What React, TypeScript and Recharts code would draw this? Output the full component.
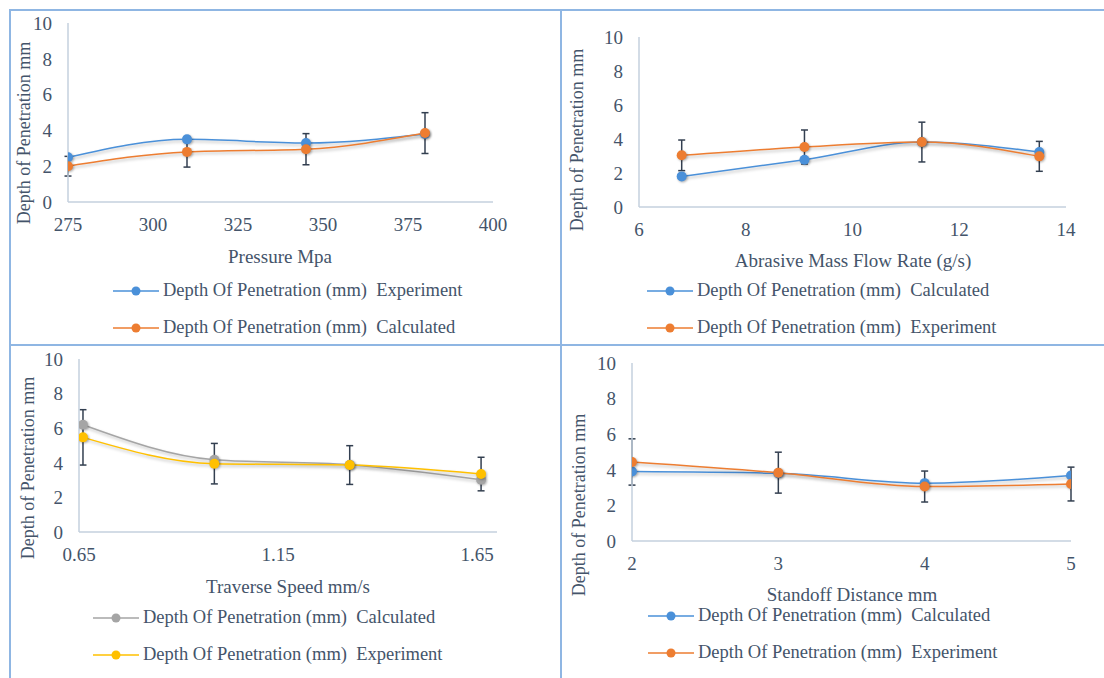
import { LineChart, Line, XAxis, YAxis, ErrorBar, Legend } from 'recharts';

// Pressure panel
const pressure = [275, 310, 345, 380];
const pressureExperiment = [2.5, 3.5, 3.3, 3.8];
const pressureCalculated = [2.0, 2.8, 2.95, 3.85];
const pressureError = [0.55, 0.85, 0.87, 1.14];
const pressureTicks = [275, 300, 325, 350, 375, 400];

// Abrasive mass flow panel
const flowRate = [6.8, 9.1, 11.3, 13.5];
const flowCalculated = [1.8, 2.78, 3.82, 3.24];
const flowExperiment = [3.04, 3.53, 3.82, 2.98];
const flowError = [0.9, 1.0, 1.17, 0.88];
const flowTicks = [6, 8, 10, 12, 14];

// Traverse speed panel
const speed = [0.66, 0.99, 1.33, 1.66];
const speedCalculated = [6.2, 4.18, 3.89, 3.02];
const speedExperiment = [5.47, 3.95, 3.87, 3.35];
const speedError = [1.6, 1.17, 1.12, 0.97];
const speedTicks = [0.65, 1.15, 1.65];

// Standoff distance panel
const standoff = [2, 3, 4, 5];
const standoffCalculated = [3.9, 3.8, 3.25, 3.68];
const standoffExperiment = [4.44, 3.84, 3.06, 3.2];
const standoffError = [1.3, 1.15, 0.87, 0.95];
const standoffTicks = [2, 3, 4, 5];

const depthTicks = [0, 2, 4, 6, 8, 10];

const FONT = '"Liberation Serif", "Times New Roman", serif';
const TEXT = '#44546a';
const AXIS = '#c5d0de';
const ERR = '#333f50';
const BORDER = '#8fb6e3';
const BLUE = '#4a90d9';
const ORANGE = '#ed7d31';
const GRAY = '#a5a5a5';
const YELLOW = '#ffc000';

type Series = { key: string; name: string; color: string; err?: boolean };

type PanelProps = {
  box: { x: number; y: number; w: number; h: number };
  plot: { l: number; t: number; r: number; b: number };
  rows: any[];
  xDomain: [number, number];
  xTicks: number[];
  xFmt?: (v: number) => string;
  series: Series[];
  xTitle: string;
  xTitleAt: { x: number; y: number };
  yTitleAt: { x: number; y: number };
  legendAt: { x: number; y: number };
};

const Y_W = 40;
const X_H = 30;

const LegendBox = ({ series }: { series: Series[] }) => (
  <div style={{ fontFamily: FONT, fontSize: 18.5, color: TEXT }}>
    {series.map((s) => (
      <div key={s.key} style={{ display: 'flex', alignItems: 'center', height: 37, whiteSpace: 'pre' }}>
        <svg width={46} height={12} style={{ marginRight: 4 }}>
          <line x1={0} y1={6} x2={46} y2={6} stroke={s.color} strokeWidth={1.5} />
          <circle cx={23} cy={6} r={4.5} fill={s.color} />
        </svg>
        <span>{s.name}</span>
      </div>
    ))}
  </div>
);

const Panel = ({ box, plot, rows, xDomain, xTicks, xFmt, series, xTitle, xTitleAt, yTitleAt, legendAt }: PanelProps) => {
  const margin = {
    left: plot.l - box.x - Y_W,
    top: plot.t - box.y,
    right: box.x + box.w - plot.r,
    bottom: box.y + box.h - plot.b - X_H,
  };
  return (
    <div style={{ position: 'absolute', left: box.x, top: box.y, width: box.w, height: box.h, fontFamily: FONT }}>
      <LineChart width={box.w} height={box.h} data={rows} margin={margin} style={{ fontFamily: FONT }}>
        <XAxis
          type="number"
          dataKey="x"
          domain={xDomain}
          ticks={xTicks}
          tickFormatter={xFmt}
          allowDataOverflow
          height={X_H}
          tickLine={false}
          tickSize={0}
          tickMargin={16}
          axisLine={{ stroke: AXIS, strokeWidth: 1.5 }}
          tick={{ fill: TEXT, fontSize: 19, fontFamily: FONT }}
        />
        <YAxis
          domain={[0, 10]}
          ticks={depthTicks}
          width={Y_W}
          tickLine={false}
          tickSize={0}
          tickMargin={16}
          axisLine={{ stroke: AXIS, strokeWidth: 1.5 }}
          tick={{ fill: TEXT, fontSize: 19, fontFamily: FONT }}
        />
        <Legend
          layout="horizontal"
          verticalAlign="middle"
          align="center"
          wrapperStyle={{ left: legendAt.x - box.x, top: legendAt.y - box.y, width: 'auto' }}
          content={() => <LegendBox series={series} />}
        />
        {series.map((s) => (
          <Line
            key={s.key}
            dataKey={s.key}
            name={s.name}
            type="monotone"
            stroke={s.color}
            strokeWidth={1.5}
            dot={{ r: 5, fill: s.color, stroke: 'none' }}
            activeDot={false}
            isAnimationActive={false}
          >
            {s.err && <ErrorBar dataKey="err" direction="y" width={3.5} strokeWidth={1.5} stroke={ERR} />}
          </Line>
        ))}
      </LineChart>
      <div
        style={{
          position: 'absolute',
          left: xTitleAt.x - box.x,
          top: xTitleAt.y - box.y,
          transform: 'translate(-50%, -50%)',
          whiteSpace: 'nowrap',
          fontSize: 19,
          color: TEXT,
        }}
      >
        {xTitle}
      </div>
      <div
        style={{
          position: 'absolute',
          left: yTitleAt.x - box.x,
          top: yTitleAt.y - box.y,
          transform: 'translate(-50%, -50%) rotate(-90deg)',
          whiteSpace: 'nowrap',
          fontSize: 18,
          color: TEXT,
        }}
      >
        Depth of Penetration mm
      </div>
    </div>
  );
};

const pressureRows = pressure.map((x, i) => ({
  x,
  exp: pressureExperiment[i],
  calc: pressureCalculated[i],
  err: pressureError[i],
}));
const flowRows = flowRate.map((x, i) => ({
  x,
  calc: flowCalculated[i],
  exp: flowExperiment[i],
  err: flowError[i],
}));
const speedRows = speed.map((x, i) => ({
  x,
  calc: speedCalculated[i],
  exp: speedExperiment[i],
  err: speedError[i],
}));
const standoffRows = standoff.map((x, i) => ({
  x,
  calc: standoffCalculated[i],
  exp: standoffExperiment[i],
  err: standoffError[i],
}));

const line = (style: any) => <div style={{ position: 'absolute', background: BORDER, ...style }} />;

export default function App() {
  return (
    <div style={{ position: 'absolute', left: 0, top: 0, width: 1104, height: 678, background: '#fff', overflow: 'hidden', fontFamily: FONT }}>
      <style>{`
        .recharts-line-curve { filter: drop-shadow(1px 2px 1.5px rgba(0,0,0,0.25)); }
        .recharts-line-dots circle { filter: drop-shadow(1px 1.5px 1px rgba(0,0,0,0.3)); }
        .recharts-cartesian-axis-tick-value { font-family: "Liberation Serif", "Times New Roman", serif; }
      `}</style>
      {line({ left: 9, top: 9, width: 1095, height: 2 })}
      {line({ left: 9, top: 9, width: 2, height: 669 })}
      {line({ left: 560, top: 9, width: 2, height: 669 })}
      {line({ left: 9, top: 344, width: 1095, height: 2 })}

      <Panel
        box={{ x: 11, y: 11, w: 549, h: 333 }}
        plot={{ l: 68, t: 23, r: 493, b: 202 }}
        rows={pressureRows}
        xDomain={[275, 400]}
        xTicks={pressureTicks}
        series={[
          { key: 'exp', name: 'Depth Of Penetration (mm)  Experiment', color: BLUE },
          { key: 'calc', name: 'Depth Of Penetration (mm)  Calculated', color: ORANGE, err: true },
        ]}
        xTitle="Pressure Mpa"
        xTitleAt={{ x: 280, y: 257 }}
        yTitleAt={{ x: 24, y: 133 }}
        legendAt={{ x: 113, y: 272 }}
      />
      <Panel
        box={{ x: 562, y: 11, w: 542, h: 333 }}
        plot={{ l: 639, t: 37, r: 1066, b: 207 }}
        rows={flowRows}
        xDomain={[6, 14]}
        xTicks={flowTicks}
        series={[
          { key: 'calc', name: 'Depth Of Penetration (mm)  Calculated', color: BLUE },
          { key: 'exp', name: 'Depth Of Penetration (mm)  Experiment', color: ORANGE, err: true },
        ]}
        xTitle="Abrasive Mass Flow Rate (g/s)"
        xTitleAt={{ x: 853, y: 261 }}
        yTitleAt={{ x: 577, y: 140 }}
        legendAt={{ x: 647, y: 272 }}
      />
      <Panel
        box={{ x: 11, y: 346, w: 549, h: 332 }}
        plot={{ l: 79, t: 359, r: 497, b: 532 }}
        rows={speedRows}
        xDomain={[0.65, 1.7]}
        xTicks={speedTicks}
        xFmt={(v: number) => v.toFixed(2)}
        series={[
          { key: 'calc', name: 'Depth Of Penetration (mm)  Calculated', color: GRAY },
          { key: 'exp', name: 'Depth Of Penetration (mm)  Experiment', color: YELLOW, err: true },
        ]}
        xTitle="Traverse Speed mm/s"
        xTitleAt={{ x: 288, y: 587 }}
        yTitleAt={{ x: 28, y: 468 }}
        legendAt={{ x: 93, y: 599 }}
      />
      <Panel
        box={{ x: 562, y: 346, w: 542, h: 332 }}
        plot={{ l: 632, t: 363, r: 1071, b: 541 }}
        rows={standoffRows}
        xDomain={[2, 5]}
        xTicks={standoffTicks}
        series={[
          { key: 'calc', name: 'Depth Of Penetration (mm)  Calculated', color: BLUE },
          { key: 'exp', name: 'Depth Of Penetration (mm)  Experiment', color: ORANGE, err: true },
        ]}
        xTitle="Standoff Distance mm"
        xTitleAt={{ x: 852, y: 595 }}
        yTitleAt={{ x: 579, y: 505 }}
        legendAt={{ x: 648, y: 597 }}
      />
    </div>
  );
}
